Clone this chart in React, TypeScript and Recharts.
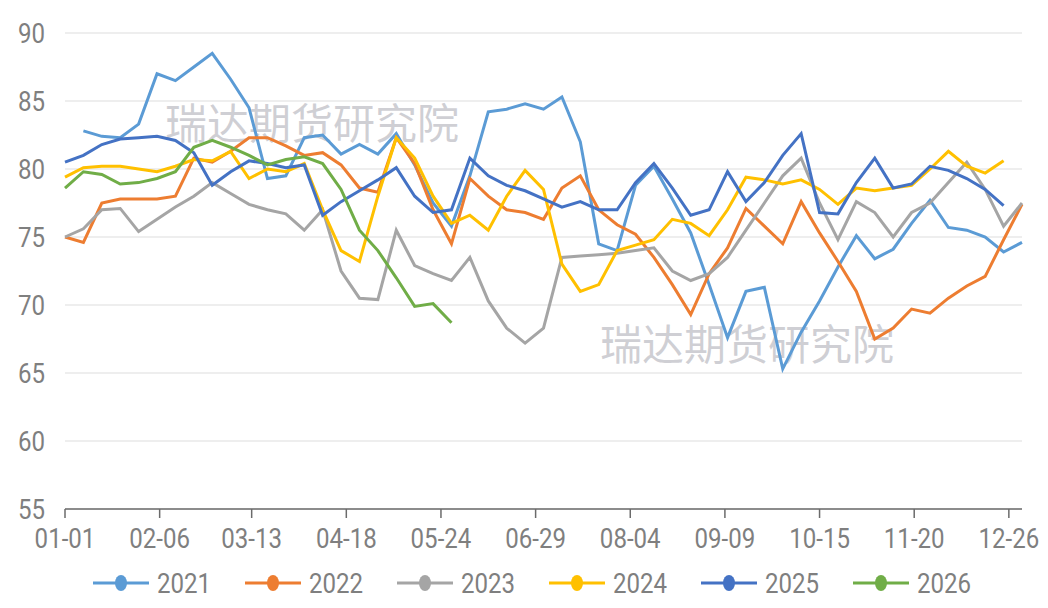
import { LineChart, Line, XAxis, YAxis, CartesianGrid, Legend } from 'recharts';

const FONT = "Roboto, 'Noto Sans', sans-serif";
const TEXT_GRAY = '#7f7f7f';

// weekly observation dates (MM-DD)
const weeks = [
  '01-01', '01-08', '01-15', '01-22', '01-29', '02-05', '02-12', '02-19', '02-26',
  '03-05', '03-12', '03-19', '03-26', '04-02', '04-09', '04-16', '04-23', '04-30',
  '05-07', '05-14', '05-21', '05-28', '06-04', '06-11', '06-18', '06-25', '07-02',
  '07-09', '07-16', '07-23', '07-30', '08-06', '08-13', '08-20', '08-27', '09-03',
  '09-10', '09-17', '09-24', '10-01', '10-08', '10-15', '10-22', '10-29', '11-05',
  '11-12', '11-19', '11-26', '12-03', '12-10', '12-17', '12-24', '12-31',
];

const tickLabels = ['01-01', '02-06', '03-13', '04-18', '05-24', '06-29', '08-04', '09-09', '10-15', '11-20', '12-26'];
const yTicks = [55, 60, 65, 70, 75, 80, 85, 90];

const s2021 = [null, 82.8, 82.4, 82.3, 83.3, 87.0, 86.5, 87.5, 88.5, 86.6, 84.5, 79.3, 79.5, 82.3, 82.5, 81.1, 81.8, 81.1, 82.6, 80.3, 77.5, 75.8, 79.5, 84.2, 84.4, 84.8, 84.4, 85.3, 82.0, 74.5, 74.0, 78.8, 80.2, 77.8, 75.3, 71.5, 67.6, 71.0, 71.3, 65.3, 68.0, 70.3, 72.8, 75.1, 73.4, 74.1, 76.0, 77.7, 75.7, 75.5, 75.0, 73.9, 74.6];
const s2022 = [75.0, 74.6, 77.5, 77.8, 77.8, 77.8, 78.0, 80.8, 80.5, 81.3, 82.3, 82.3, 81.7, 81.0, 81.2, 80.3, 78.6, 78.3, 82.3, 80.4, 77.0, 74.5, 79.3, 78.0, 77.0, 76.8, 76.3, 78.6, 79.5, 77.0, 75.9, 75.2, 73.5, 71.5, 69.3, 72.3, 74.2, 77.1, 75.8, 74.5, 77.6, 75.3, 73.2, 71.0, 67.5, 68.3, 69.7, 69.4, 70.5, 71.4, 72.1, 74.8, 77.4];
const s2023 = [75.0, 75.6, 77.0, 77.1, 75.4, 76.3, 77.2, 78.0, 79.0, 78.2, 77.4, 77.0, 76.7, 75.5, 77.0, 72.5, 70.5, 70.4, 75.5, 72.9, 72.3, 71.8, 73.5, 70.3, 68.3, 67.2, 68.3, 73.5, 73.6, 73.7, 73.8, 74.0, 74.2, 72.5, 71.8, 72.3, 73.5, 75.5, 77.5, 79.5, 80.8, 77.5, 74.8, 77.6, 76.8, 75.0, 76.8, 77.5, 79.0, 80.5, 78.5, 75.8, 77.5];
const s2024 = [79.4, 80.1, 80.2, 80.2, 80.0, 79.8, 80.2, 80.7, 80.6, 81.3, 79.3, 80.0, 79.8, 80.4, 77.0, 74.0, 73.2, 78.0, 82.3, 80.8, 78.0, 76.0, 76.6, 75.5, 78.0, 79.9, 78.5, 73.0, 71.0, 71.5, 74.0, 74.4, 74.8, 76.3, 76.0, 75.1, 77.0, 79.4, 79.2, 78.9, 79.2, 78.5, 77.4, 78.6, 78.4, 78.6, 78.8, 80.0, 81.3, 80.2, 79.7, 80.6, null];
const s2025 = [80.5, 81.0, 81.8, 82.2, 82.3, 82.4, 82.1, 81.2, 78.8, 79.8, 80.6, 80.4, 80.1, 80.3, 76.6, 77.6, 78.4, 79.2, 80.1, 78.0, 76.8, 77.0, 80.8, 79.5, 78.8, 78.4, 77.8, 77.2, 77.6, 77.0, 77.0, 79.0, 80.4, 78.6, 76.6, 77.0, 79.8, 77.6, 79.0, 81.0, 82.6, 76.8, 76.7, 79.0, 80.8, 78.6, 78.9, 80.2, 79.9, 79.3, 78.5, 77.3, null];
const s2026 = [78.6, 79.8, 79.6, 78.9, 79.0, 79.3, 79.8, 81.6, 82.1, 81.6, 81.0, 80.3, 80.7, 80.9, 80.4, 78.5, 75.5, 74.0, 72.0, 69.9, 70.1, 68.7];

const series = [
  { key: 'y2021', name: '2021', color: '#5B9BD5', values: s2021 },
  { key: 'y2022', name: '2022', color: '#ED7D31', values: s2022 },
  { key: 'y2023', name: '2023', color: '#A5A5A5', values: s2023 },
  { key: 'y2024', name: '2024', color: '#FFC000', values: s2024 },
  { key: 'y2025', name: '2025', color: '#4472C4', values: s2025 },
  { key: 'y2026', name: '2026', color: '#70AD47', values: s2026 },
];

// day of year for an MM-DD string (non-leap year)
const monthStart = [0, 31, 59, 90, 120, 151, 181, 212, 243, 273, 304, 334];
const dayOf = (md: string) => {
  const [m, d] = md.split('-').map(Number);
  return monthStart[m - 1] + d - 1;
};

const tickDays = tickLabels.map(dayOf);
const labelByDay: Record<number, string> = {};
tickLabels.forEach((l) => { labelByDay[dayOf(l)] = l; });

const data = weeks.map((w, i) => {
  const row: Record<string, any> = { day: dayOf(w) };
  series.forEach((s) => { row[s.key] = s.values[i] ?? null; });
  return row;
});

// labels in the original are narrow, so squeeze the glyphs a bit
const SQUEEZE = 0.86;

const XTick = (props: any) => {
  const { x, y, payload } = props;
  return (
    <g transform={`translate(${x},${y})`}>
      <text transform={`scale(${SQUEEZE},1)`} textAnchor="middle" dy="0.72em" fill={TEXT_GRAY} fontSize={28} fontFamily={FONT}>
        {labelByDay[payload.value] ?? ''}
      </text>
    </g>
  );
};

const YTick = (props: any) => {
  const { x, y, payload } = props;
  return (
    <g transform={`translate(${x},${y})`}>
      <text transform={`scale(${SQUEEZE},1)`} textAnchor="end" dy="0.36em" fill={TEXT_GRAY} fontSize={28} fontFamily={FONT}>
        {payload.value}
      </text>
    </g>
  );
};

const renderLegend = () => (
  <div style={{ display: 'flex', justifyContent: 'center', alignItems: 'center', height: 40, paddingLeft: 68 }}>
    {series.map((s) => (
      <svg key={s.key} width={152} height={34}>
        <line x1={4} y1={17} x2={60} y2={17} stroke={s.color} strokeWidth={3} />
        <ellipse cx={32} cy={17} rx={6} ry={8} fill={s.color} />
        <g transform="translate(68,17)">
          <text transform={`scale(${SQUEEZE},1)`} dy="0.36em" fill={TEXT_GRAY} fontSize={28} fontFamily={FONT}>
            {s.name}
          </text>
        </g>
      </svg>
    ))}
  </div>
);

const watermark: React.CSSProperties = {
  position: 'absolute',
  fontFamily: "'Noto Sans CJK SC', sans-serif",
  fontSize: 42,
  lineHeight: 1,
  color: 'rgba(160,160,170,0.5)',
  whiteSpace: 'nowrap',
};

const App = () => {
  return (
    <div style={{ position: 'absolute', left: 0, top: 0, width: 1048, height: 608, background: '#fff' }}>
      <div style={{ ...watermark, left: 165, top: 100 }}>瑞达期货研究院</div>
      <div style={{ ...watermark, left: 600, top: 321 }}>瑞达期货研究院</div>
      <div style={{ position: 'absolute', left: 0, top: 0 }}>
        <LineChart width={1048} height={608} data={data} margin={{ top: 33, right: 26, bottom: 5, left: 0 }}>
          <CartesianGrid vertical={false} stroke="#e8e8e8" strokeWidth={1.5} />
          <XAxis
            type="number"
            dataKey="day"
            domain={[0, 364]}
            ticks={tickDays}
            interval={0}
            height={54}
            stroke="#6b6b6b"
            strokeWidth={1.5}
            tickSize={9}
            tickMargin={10}
            tick={<XTick />}
          />
          <YAxis
            domain={[55, 90]}
            ticks={yTicks}
            interval={0}
            width={65}
            axisLine={false}
            tickLine={false}
            tickSize={0}
            tickMargin={20}
            tick={<YTick />}
          />
          <Legend verticalAlign="bottom" height={40} content={renderLegend} />
          {series.map((s) => (
            <Line
              key={s.key}
              type="linear"
              dataKey={s.key}
              name={s.name}
              stroke={s.color}
              strokeWidth={3}
              dot={false}
              activeDot={false}
              isAnimationActive={false}
            />
          ))}
        </LineChart>
      </div>
    </div>
  );
};

export default App;
